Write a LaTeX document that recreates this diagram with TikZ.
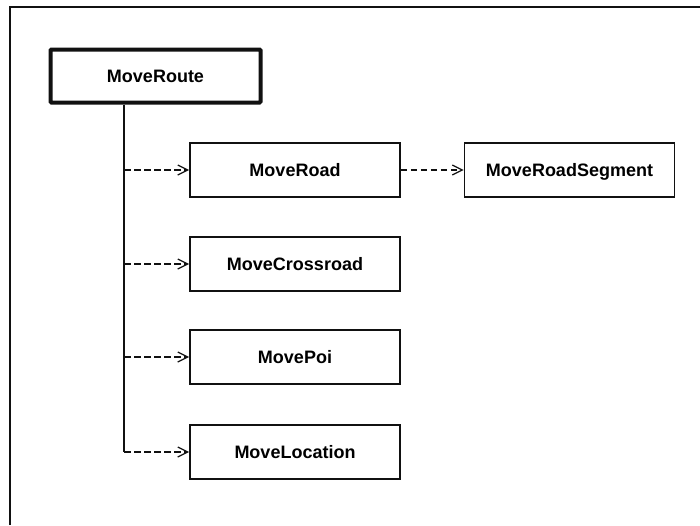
\documentclass[tikz,border=0pt]{standalone}
\usepackage{fontspec}
\usepackage{tikz}
\usetikzlibrary{arrows.meta,positioning}
\newfontfamily\boxfont{Liberation Sans}
\definecolor{Ink}{HTML}{111111}

\begin{document}
\begin{tikzpicture}[x=1pt,y=-1pt,
      frame/.style={draw=Ink,line width=2pt},
      cls/.style={draw=Ink,fill=white,line width=1.6pt,
                  minimum width=210pt,minimum height=54pt,inner sep=0pt,
                  text height=13pt,text depth=0pt,
                  font=\boxfont\bfseries\fontsize{18}{22}\selectfont},
      root/.style={cls,line width=4pt,rounded corners=1pt,
                   minimum width=210pt,minimum height=53pt},
      trunkline/.style={draw=Ink,line width=1.5pt},
      dep/.style={-{Straight Barb[length=10pt,width=10pt]},draw=Ink,
                  line width=1.3pt,dash pattern=on 6.5pt off 3.5pt}]
    \useasboundingbox (0,0) rectangle (700,525);
    % outer frame runs off the right and bottom edges
    \draw[frame] (10,525) -- (10,7) -- (700,7);

    \node[root] (route) at (155.5,76) {MoveRoute};
    \coordinate (trunk) at (124,0);

    \foreach \n/\y/\t in {road/170/MoveRoad,cross/264/MoveCrossroad,
                          poi/357/MovePoi,loc/452/MoveLocation}{%
      \node[cls] (\n) at (295,\y) {\t};
      \draw[dep] (trunk |- \n.west) -- (\n.west);
    }
    \draw[trunkline] (trunk |- route.south) -- (trunk |- loc.west);

    \node[cls] (segment) at (569.5,170) {MoveRoadSegment};
    \draw[dep] (road.east) -- (segment.west);
  \end{tikzpicture}
\end{document}
